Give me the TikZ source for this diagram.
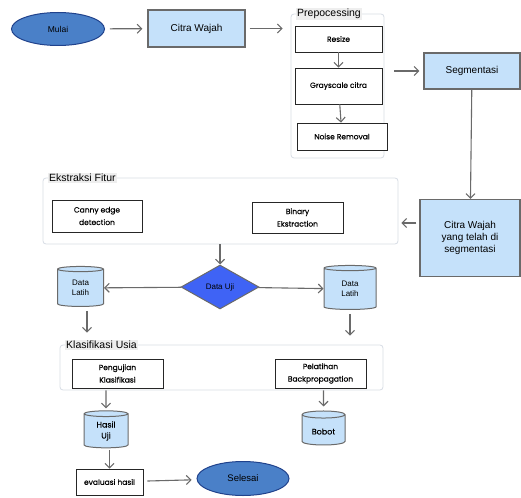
\documentclass[tikz,border=0pt]{standalone}
\usepackage{fontspec}
\setmainfont{Liberation Sans}
\newfontfamily\handfont{Poppins}[FakeBold=0.4]
\usetikzlibrary{arrows.meta, shapes.geometric}

\definecolor{lightblue}{HTML}{C5E1FA}
\definecolor{ovalblue}{HTML}{4A80C8}
\definecolor{ovalline}{HTML}{20428C}
\definecolor{diamblue}{HTML}{3F63F5}
\definecolor{linegray}{HTML}{6A6A6A}
\definecolor{groupline}{HTML}{D6DCE4}
\definecolor{titlegray}{HTML}{EEEEEE}

\tikzset{
  flow/.style={draw=linegray, line width=1.1pt, -{Straight Barb[length=4.5pt,width=9pt]}},
  oval/.style={ellipse, draw=ovalline, line width=1pt, fill=ovalblue, inner sep=0pt,
    minimum width=93pt, minimum height=33pt, font=\fontsize{8.5}{9}\selectfont},
  bluebox/.style={draw=linegray, line width=1.2pt, fill=lightblue, align=center, inner sep=0pt,
    font=\fontsize{10}{12}\selectfont},
  stepbox/.style={draw=black!85, line width=0.8pt, fill=white, align=center, inner sep=0pt,
    font=\handfont\fontsize{7.5}{12.5}\selectfont},
  group/.style={draw=groupline, line width=0.8pt, rounded corners=3pt, inner sep=0pt},
  grouptitle/.style={fill=titlegray, inner sep=1pt, anchor=west, font=\fontsize{10.5}{12}\selectfont},
  datastore/.style={cylinder, shape border rotate=90, aspect=0.3, draw=linegray, line width=1pt,
    fill=lightblue, align=center, inner sep=0pt, font=\fontsize{8}{9.5}\selectfont},
}

\begin{document}
\begin{tikzpicture}[x=1pt, y=-1pt]
\useasboundingbox (0,0) rectangle (521,497);

% groups
\node[group, minimum width=93pt, minimum height=144pt] (prep) at (337.5,86) {};
\node[grouptitle] (preptitle) at (296,14) {Prepocessing};
\node[group, minimum width=355pt, minimum height=66pt] (ekstr) at (220.5,211) {};
\node[grouptitle] (ekstrtitle) at (48,178) {Ekstraksi Fitur};
\node[group, minimum width=323pt, minimum height=45pt] (klas) at (221.5,367.5) {};
\node[grouptitle] (klastitle) at (65,345) {Klasifikasi Usia};

% top row
\node[oval] (mulai) at (58,29) {Mulai};
\node[bluebox, minimum width=97pt, minimum height=37pt] (citra) at (196.5,28.5) {Citra Wajah};
\node[stepbox, minimum width=87pt, minimum height=26pt] (resize) at (338.5,39) {Resize};
\node[stepbox, minimum width=87pt, minimum height=36pt] (gray) at (338.5,86) {Grayscale citra};
\node[stepbox, minimum width=90pt, minimum height=27pt] (noise) at (342,136.5) {Noise Removal};
\node[bluebox, minimum width=96pt, minimum height=36pt] (segm) at (472,71) {Segmentasi};
\node[bluebox, minimum width=100pt, minimum height=77pt] (citraseg) at (470,238)
  {Citra Wajah\\yang telah di\\segmentasi};

% ekstraksi
\node[stepbox, minimum width=90pt, minimum height=32pt] (canny) at (97,216) {Canny edge\\detection};
\node[stepbox, minimum width=91pt, minimum height=31pt] (binary) at (297.5,217.5) {Binary\\Ekstraction};

% data
\node[diamond, draw=linegray, line width=1pt, fill=diamblue, inner sep=0pt, aspect=1.77,
  minimum width=78pt, minimum height=44pt, font=\fontsize{8}{9}\selectfont] (datauji) at (220,287) {Data Uji};
\node[datastore, minimum width=46pt, minimum height=40pt] (latihL) at (80.5,288) {Data\\Latih};
\node[datastore, minimum width=52pt, minimum height=44pt] (latihR) at (350,289) {Data\\Latih};

% klasifikasi
\node[stepbox, minimum width=91pt, minimum height=29pt] (uji) at (117.5,373.5) {Pengujian\\Klasifikasi};
\node[stepbox, minimum width=91pt, minimum height=29pt] (latih) at (320.5,373.5) {Pelatihan\\Backpropagation};
\node[datastore, minimum width=44pt, minimum height=37pt, font=\handfont\fontsize{8}{11}\selectfont] (hasil) at (106,431) {Hasil\\Uji};
\node[datastore, minimum width=43pt, minimum height=34pt, font=\handfont\fontsize{8}{9}\selectfont] (bobot) at (323.5,430) {\\Bobot};
\node[stepbox, minimum width=67pt, minimum height=26pt] (eval) at (109.5,482) {evaluasi hasil};
\node[oval, minimum width=92pt, minimum height=34pt, font=\fontsize{9.5}{10}\selectfont] (selesai) at (243,478.5) {Selesai};

% arrows
\draw[flow, shorten <=5pt, shorten >=5pt] (mulai) -- (citra);
\draw[flow, shorten <=4pt, shorten >=8pt] (citra.east) -- (citra.east -| prep.west);
\draw[flow] (resize) -- (gray);
\draw[flow] (gray) -- (noise);
\draw[flow, shorten <=10pt, shorten >=4pt] (prep.east |- segm.west) -- (segm.west);
\draw[flow] (segm) -- (citraseg);
\draw[flow, shorten <=3pt, shorten >=3pt] (citraseg.west |- 0,223) -- (ekstr.east |- 0,223);
\draw[flow] (ekstr.south -| datauji) -- (datauji.north);
\draw[flow] (datauji) -- (latihL);
\draw[flow] (datauji) -- (latihR);
\draw[flow, shorten <=4pt, shorten >=12pt] (latihL.south -| 87,0) -- (klas.north -| 87,0);
\draw[flow, shorten <=4pt, shorten >=9pt] (latihR.south) -- (klas.north -| latihR);
\draw[flow, shorten >=2pt] (klas.south -| hasil) -- (hasil.north);
\draw[flow, shorten >=4pt] (klas.south -| bobot) -- (bobot.north);
\draw[flow, shorten <=2pt] (hasil.south -| eval) -- (eval.north);
\draw[flow, shorten <=4pt, shorten >=5pt] (eval) -- (selesai);
\end{tikzpicture}
\end{document}
